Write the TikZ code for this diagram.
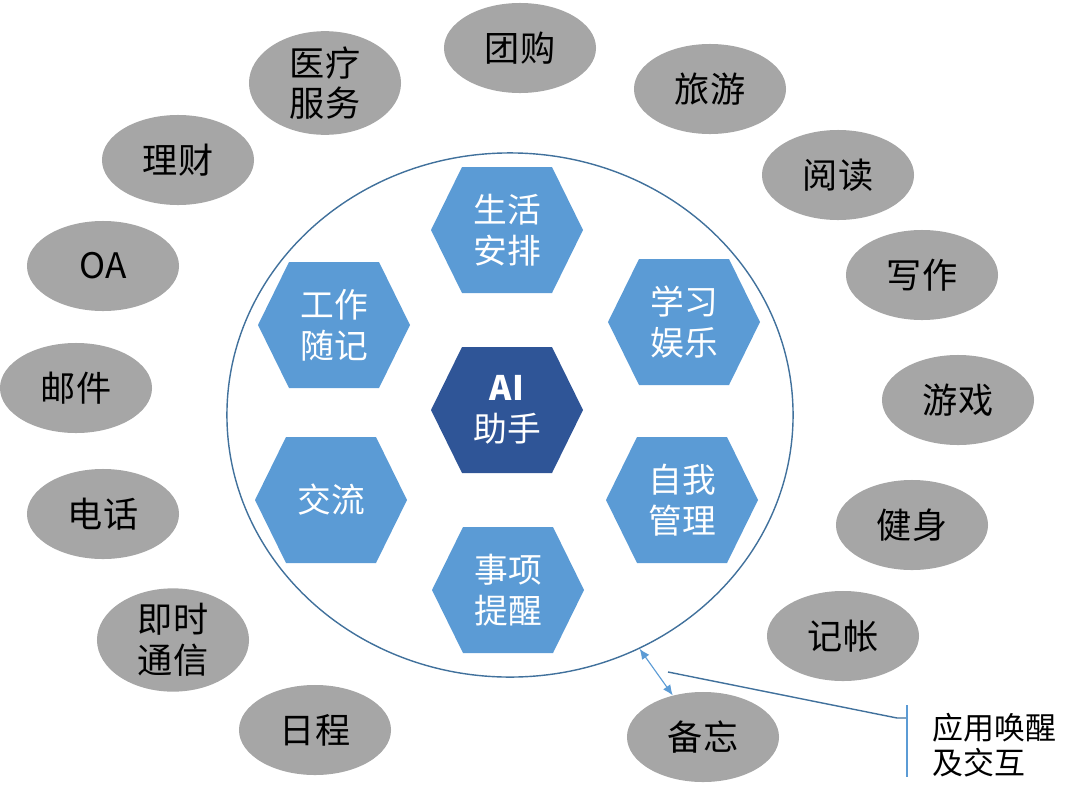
\documentclass[tikz,border=0pt]{standalone}
\usepackage{fontspec}
\setmainfont{Noto Sans CJK SC}
\usetikzlibrary{shapes.geometric,arrows.meta,calc}
\definecolor{hexblue}{HTML}{5B9BD5}
\definecolor{aiblue}{HTML}{2F5597}
\definecolor{appgray}{HTML}{A6A6A6}
\definecolor{ringblue}{HTML}{41719C}
\tikzset{
  app/.style={ellipse, fill=appgray, minimum width=3.8cm, minimum height=2.25cm,
    inner sep=0pt, align=center, font=\fontsize{25}{29}\selectfont},
  hextext/.style={text=white, align=center, font=\fontsize{24}{29}\selectfont},
  ring/.style={ellipse, draw=ringblue, line width=1pt, minimum width=14.15cm,
    minimum height=13.1cm, inner sep=0pt},
  wakearrow/.style={hexblue, line width=0.8pt, {Latex[length=2.6mm,width=2.2mm]}-{Latex[length=2.6mm,width=2.2mm]}},
  callout/.style={ringblue, line width=1pt},
}
% hexagon cell: name, centre, colour, text
\newcommand{\hexcell}[4]{%
  \fill[#3] (#2) ++(-76,0) -- ++(31,-63) -- ++(90,0) -- ++(31,63) -- ++(-31,63) -- ++(-90,0) -- cycle;
  \node[hextext] (#1) at (#2) {#4};
}

\begin{document}
\begin{tikzpicture}[x=0.025cm,y=-0.025cm]
  \useasboundingbox (0,0) rectangle (1080,797);

  % outer ring
  \node[ring] (ring) at (510,415) {};

  % hexagons
  \hexcell{ai}{507,410}{aiblue}{\textbf{AI}\\助手}
  \hexcell{life}{507,230}{hexblue}{生活\\安排}
  \hexcell{study}{684,322}{hexblue}{学习\\娱乐}
  \hexcell{self}{682,500}{hexblue}{自我\\管理}
  \hexcell{remind}{508,590}{hexblue}{事项\\提醒}
  \hexcell{talk}{331,500}{hexblue}{交流}
  \hexcell{work}{334,325}{hexblue}{工作\\随记}

  % applications
  \node[app] (group) at (520,48) {团购};
  \node[app] (medic) at (325,83) {医疗\\服务};
  \node[app] (money) at (178,160) {理财};
  \node[app] (oa) at (103,266) {OA};
  \node[app] (mail) at (76,388) {邮件};
  \node[app] (phone) at (103,514) {电话};
  \node[app] (chat) at (173,640) {即时\\通信};
  \node[app] (sched) at (315,730) {日程};
  \node[app] (memo) at (703,737) {备忘};
  \node[app] (acct) at (843,636) {记帐};
  \node[app] (fit) at (912,525) {健身};
  \node[app] (game) at (958,400) {游戏};
  \node[app] (write) at (922,275) {写作};
  \node[app] (read) at (838,175) {阅读};
  \node[app] (trip) at (710,89) {旅游};

  % wake-up and interaction
  \draw[wakearrow] (ring.-61) -- (memo.126);
  \coordinate (calltip) at (668,672);
  \coordinate (barT) at (907,705);
  \coordinate (barB) at (907,777);
  \draw[callout] (calltip) -- (897,718) -- ($(barT)!0.18!(barB)$);
  \draw[hexblue, line width=1pt] (barT) -- (barB);
  \node[anchor=west, align=left, font=\fontsize{22}{24.5}\selectfont] (wake) at (928,745) {应用唤醒\\及交互};
\end{tikzpicture}
\end{document}
